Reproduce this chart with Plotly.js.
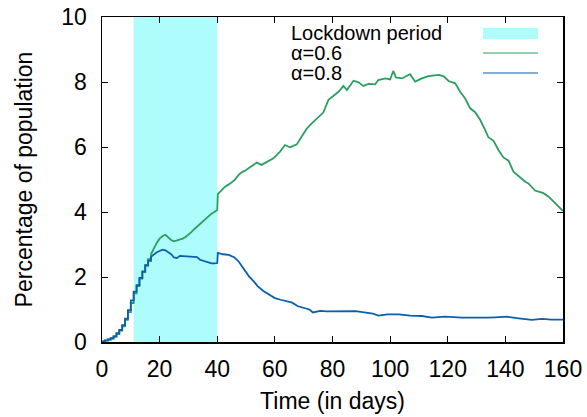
<!DOCTYPE html>
<html>
<head>
<meta charset="utf-8">
<script src="https://cdn.plot.ly/plotly-3.0.1.min.js"></script>
<style>html,body{margin:0;padding:0;background:#fff;}#chart{width:587px;height:417px;}</style>
</head>
<body>
<div id="chart"></div>
<script>
// Lockdown period (days)
var lockdownStart = 11;
var lockdownEnd = 40;

// alpha = 0.6 series
var daysA06 = [0,1,2,3,4,5,6,7,8,9,10,11,12,13,14,15,16,17,18,19,20,21,22,23,24,25,26,27,28,29,30,31,32,33,34,35,36,37,38,39,40,40.2,41,42.7,44,46,47.5,48.5,50,52,53.7,55.4,57.2,59.5,61.8,63.5,65.3,67.6,69.3,71.1,72.8,75.1,76.8,78.6,80.3,82.1,83.8,85,87.3,89,90.7,92.5,94.8,95.9,98.3,100,101.1,102,104.1,106.9,108.7,111,113.3,116.8,118.5,120.3,122.6,124.3,126,127.8,129.5,131.3,133,134.1,135.9,137.6,139.3,141.1,142.8,145.1,146.9,148,150.3,153.2,155,157.3,159.6,160];
var valsA06 = [0.02,0.04,0.07,0.1,0.16,0.24,0.35,0.48,0.68,0.92,1.2,1.5,1.72,1.95,2.15,2.37,2.55,2.7,2.9,3.05,3.18,3.26,3.3,3.22,3.14,3.1,3.12,3.15,3.18,3.23,3.3,3.38,3.47,3.55,3.62,3.72,3.8,3.88,3.95,4.0,4.06,4.55,4.62,4.78,4.85,4.98,5.15,5.22,5.29,5.42,5.52,5.45,5.53,5.65,5.86,6.06,5.99,6.08,6.32,6.57,6.73,6.93,7.06,7.45,7.58,7.7,7.88,7.75,8.04,7.99,7.88,7.94,7.93,8.06,8.11,8.08,8.34,8.14,8.11,8.24,8.01,8.11,8.18,8.22,8.18,8.03,7.96,7.7,7.5,7.19,7.07,6.83,6.52,6.3,6.19,5.91,5.68,5.58,5.24,5.06,4.93,4.88,4.66,4.58,4.47,4.27,4.06,4.03];

// alpha = 0.8 series
var daysA08 = [0,1,2,3,4,5,6,7,8,9,10,11,12,13,14,15,16,17,18,19,20,21,22,23,24,25,26,27,28,29,30,31,32,33,34,35,36,37,38,39,40,40.2,42,44,46,47.5,49.5,51,52.5,54,56,58,60,62,64,66,68,70,72,73.2,75.7,78,80,83,86,88,91,94,96,99,103,107,111,114.5,119,122,125,128,131,134,136.5,140.5,144.6,147,149.2,152.7,156,160];
var valsA08 = [0.02,0.05,0.08,0.12,0.18,0.27,0.37,0.52,0.72,0.98,1.28,1.55,1.75,1.97,2.17,2.35,2.5,2.62,2.7,2.76,2.8,2.84,2.82,2.76,2.7,2.6,2.58,2.65,2.64,2.63,2.62,2.63,2.6,2.61,2.53,2.5,2.47,2.43,2.42,2.42,2.43,2.74,2.7,2.68,2.6,2.47,2.22,2.02,1.88,1.72,1.57,1.45,1.35,1.3,1.25,1.21,1.1,1.05,1.0,0.91,0.96,0.94,0.94,0.96,0.94,0.95,0.91,0.87,0.81,0.85,0.85,0.81,0.8,0.75,0.78,0.76,0.75,0.75,0.74,0.75,0.76,0.78,0.73,0.71,0.68,0.71,0.69,0.69];

var xTicks = [0,20,40,60,80,100,120,140,160];
var yTicks = [0,2,4,6,8,10];
var legendLabels = ["Lockdown period", "\u03b1=0.6", "\u03b1=0.8"];
var colLock = "#aefcfc", colA06 = "#2a9f5e", colA08 = "#0a5fae";

var xRange = [0, 160], yRange = [0, 10];
var stairEnd = 17; // early part drawn as a staircase
var FONT = "Liberation Sans, Arial, Helvetica, sans-serif";

function splitTraces(xs, ys, color) {
  var k = xs.indexOf(stairEnd);
  return [
    {x: xs.slice(0, k + 1), y: ys.slice(0, k + 1), type: "scatter", mode: "lines",
     line: {color: color, width: 1.8, shape: "hv"}, showlegend: false},
    {x: xs.slice(k), y: ys.slice(k), type: "scatter", mode: "lines",
     line: {color: color, width: 1.8, shape: "linear"}, showlegend: false}
  ];
}

var traces = [
  {x: [lockdownStart, lockdownEnd, lockdownEnd, lockdownStart, lockdownStart],
   y: [yRange[0], yRange[0], yRange[1], yRange[1], yRange[0]],
   type: "scatter", mode: "lines", fill: "toself", fillcolor: colLock,
   line: {width: 0, color: colLock}, hoverinfo: "skip", showlegend: false}
].concat(splitTraces(daysA06, valsA06, colA06), splitTraces(daysA08, valsA08, colA08));

var L = {l: 102, r: 24, t: 17, b: 75};
var ph = 417 - L.t - L.b;
function py(pix) { return (417 - L.b - pix) / ph; }
var pw = 587 - L.l - L.r;
function px(pix) { return (pix - L.l) / pw; }

var textX = px(289), sx0 = px(483), sx1 = px(538);
var rowY = [py(33), py(53), py(73)];

var annotations = legendLabels.map(function (t, i) {
  return {xref: "paper", yref: "paper", x: textX, y: rowY[i], xanchor: "left", yanchor: "middle",
          text: t, showarrow: false, font: {family: FONT, size: 20, color: "#000"}};
});
var shapes = [
  {type: "rect", xref: "paper", yref: "paper", x0: sx0, x1: sx1, y0: py(39), y1: py(28),
   fillcolor: colLock, line: {width: 0}},
  {type: "line", xref: "paper", yref: "paper", x0: sx0, x1: sx1, y0: rowY[1], y1: rowY[1],
   line: {color: colA06, width: 1.2}},
  {type: "line", xref: "paper", yref: "paper", x0: sx0, x1: sx1, y0: rowY[2], y1: rowY[2],
   line: {color: colA08, width: 1.2}}
];

var axisCommon = {
  showgrid: false, zeroline: false, showline: true, linecolor: "#000", linewidth: 1.5,
  mirror: "allticks", ticks: "inside", ticklen: 6, tickwidth: 1, tickcolor: "#000",
  tickfont: {family: FONT, size: 23, color: "#000"}
};

var layout = {
  width: 587, height: 417, margin: L,
  paper_bgcolor: "#fff", plot_bgcolor: "#fff",
  font: {family: FONT, color: "#000"},
  showlegend: false,
  xaxis: Object.assign({}, axisCommon, {range: xRange, tickvals: xTicks, ticklabelstandoff: 6,
    title: {text: "Time (in days)", font: {family: FONT, size: 23, color: "#000"}, standoff: 12}}),
  yaxis: Object.assign({}, axisCommon, {range: yRange, tickvals: yTicks, ticklabelstandoff: 9,
    title: {text: "Percentage of population", font: {family: FONT, size: 23, color: "#000"}, standoff: 22}}),
  annotations: annotations,
  shapes: shapes
};

Plotly.newPlot("chart", traces, layout, {displayModeBar: false, staticPlot: true});
</script>
</body>
</html>
